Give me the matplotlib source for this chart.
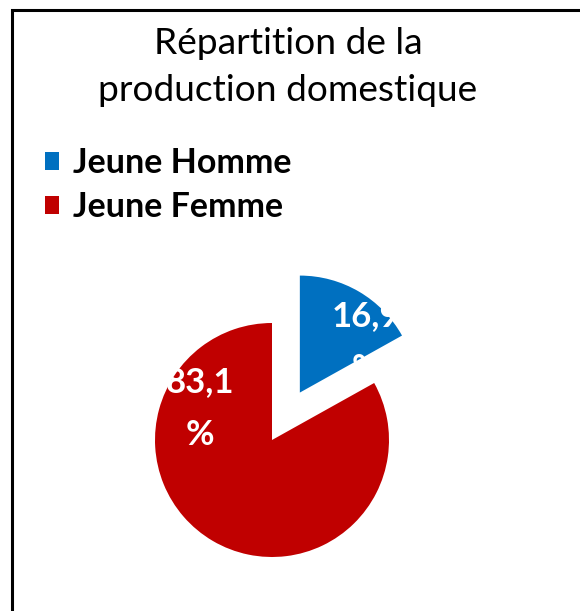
import matplotlib.pyplot as plt
from matplotlib.patches import Rectangle

categories = ['Jeune Homme', 'Jeune Femme']
values = [16.9, 83.1]
labels = ['16,9\n%', '83,1\n%']
colors = ['#0070C0', '#C00000']

W, H = 580, 611
plt.rcParams['font.family'] = ['Lato', 'DejaVu Sans']

fig = plt.figure(figsize=(W / 100, H / 100), dpi=100)

# frame (left/top border visible only)
fig.patches.append(Rectangle((12 / W, -0.1), 1.2, (H - 10) / H + 0.1, transform=fig.transFigure,
                             fill=False, edgecolor='black', linewidth=2.2))

# pie: center (272, 440 from top), radius 117 px
r, cx, cy = 117, 272, H - 440
ax = fig.add_axes([(cx - 2 * r) / W, (cy - 2 * r) / H, 4 * r / W, 4 * r / H])
wedges, _ = ax.pie(values, colors=colors, startangle=90, counterclock=False,
                   explode=[0.47, 0], radius=1, wedgeprops=dict(linewidth=0))
ax.set_xlim(-2, 2), ax.set_ylim(-2, 2), ax.axis('off')

label_pos = [(0.80, 0.83), (-0.615, 0.27)]
for lab, (x, y) in zip(labels, label_pos):
    ax.text(x, y, lab, color='white', fontsize=25, fontweight='bold',
            ha='center', va='center', linespacing=1.8)

fig.text(288 / W, 1 - 67 / H, 'Répartition de la\nproduction domestique', ha='center', va='center',
         fontsize=26.7, linespacing=1.55)

fig.legend(wedges, categories, loc='upper left', bbox_to_anchor=(45 / W, 1 - 147 / H),
           frameon=False, prop=dict(size=24.5, weight='bold'), handlelength=0.42, handleheight=0.42,
           handletextpad=0.39, labelspacing=0.36, borderpad=0, borderaxespad=0)

fig.savefig('out.png', dpi=100)
